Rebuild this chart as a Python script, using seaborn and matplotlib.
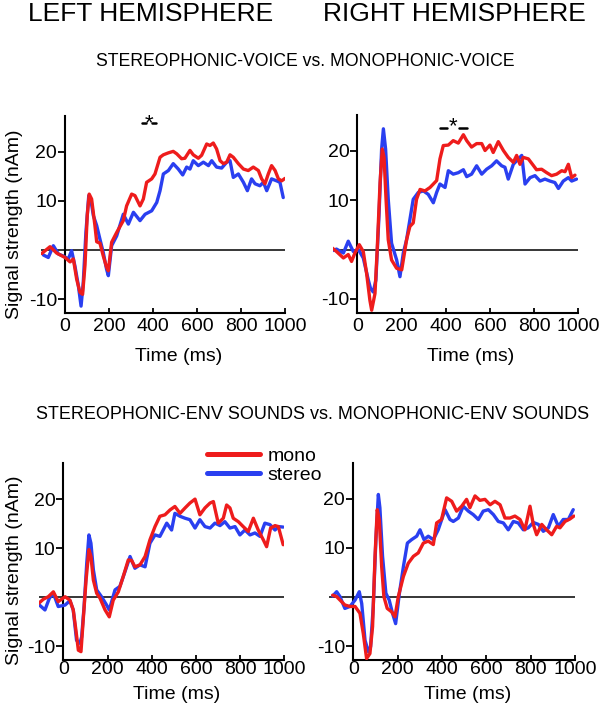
import numpy as np
import pandas as pd
import matplotlib
matplotlib.use("Agg")
import matplotlib.pyplot as plt
from matplotlib import font_manager
import seaborn as sns

# ---------------- data ----------------
# Top-left: voice, left hemisphere
tl_mono_t = [-106, -68, -38, 0, 23, 38, 53, 68, 80, 91, 101, 110, 121, 136, 144, 159, 174, 189, 197, 212, 235, 265, 280, 303, 318, 341, 356, 371, 394, 409, 432, 447, 470, 492, 508, 530, 545, 568, 583, 606, 621, 644, 659, 674, 689, 705, 720, 735, 750, 765, 788, 811, 833, 856, 879, 894, 909, 924, 939, 955, 970, 985, 1000]
tl_mono_v = [-0.7, 0.7, -0.6, -1.5, -2.4, -1.8, -5.9, -8.6, -9.0, -3.0, 7.0, 11.4, 10.4, 5.0, 1.7, 1.4, -1.2, -3.5, -4.2, 1.6, 3.6, 6.0, 9.0, 11.4, 11.1, 9.0, 10.4, 13.8, 14.5, 15.5, 18.9, 19.4, 19.8, 20.1, 19.6, 18.6, 18.7, 20.3, 19.4, 18.7, 19.3, 21.6, 21.3, 21.8, 20.6, 18.2, 17.6, 17.9, 19.4, 18.9, 17.6, 16.5, 16.2, 16.9, 16.2, 14.5, 13.5, 15.5, 17.2, 16.2, 14.5, 14.1, 14.6]
tl_stereo_t = [-98, -76, -53, -30, -8, 15, 30, 45, 61, 73, 83, 95, 108, 117, 129, 144, 159, 174, 189, 197, 212, 235, 265, 288, 311, 341, 364, 394, 417, 432, 447, 470, 492, 515, 535, 553, 568, 583, 606, 629, 652, 667, 689, 712, 735, 750, 765, 788, 811, 829, 848, 864, 886, 902, 917, 939, 962, 977, 992]
tl_stereo_v = [-1.0, -1.5, 0.9, -0.8, -1.2, -1.8, -0.1, -3.2, -7.3, -11.4, -6.6, 3.6, 11.1, 10.4, 7.0, 5.0, 2.2, -0.5, -3.9, -5.2, 0.9, 2.9, 7.3, 5.3, 7.7, 6.0, 7.3, 8.0, 9.7, 12.1, 15.5, 16.2, 17.6, 16.5, 15.3, 16.9, 16.5, 18.2, 17.2, 17.9, 17.2, 18.2, 16.9, 16.7, 17.9, 18.2, 14.8, 15.5, 13.8, 12.1, 14.5, 13.5, 13.1, 13.8, 12.1, 14.5, 14.1, 13.8, 10.7]

# Top-right: voice, right hemisphere
tr_mono_t = [-124, -94, -63, -41, -26, -11, 9, 27, 42, 57, 65, 80, 90, 103, 113, 121, 130, 140, 155, 178, 201, 223, 238, 253, 268, 284, 306, 329, 344, 359, 374, 389, 412, 434, 457, 480, 495, 517, 540, 563, 578, 600, 615, 638, 661, 683, 706, 721, 736, 751, 774, 796, 811, 834, 857, 879, 902, 925, 940, 955, 970, 985]
tr_mono_v = [0.7, -0.4, -1.7, -1.0, -2.4, -0.7, 1.0, -0.4, -4.8, -10.3, -12.3, -8.9, 0.0, 13.6, 20.4, 18.7, 10.2, 2.0, -2.1, -3.8, -4.1, 2.0, 4.7, 5.4, 10.2, 12.2, 11.9, 12.6, 13.3, 14.0, 18.4, 21.1, 21.2, 22.1, 21.6, 23.3, 22.1, 20.8, 21.5, 21.5, 20.1, 21.2, 19.7, 21.9, 20.1, 18.7, 17.7, 19.1, 17.3, 18.7, 18.4, 17.1, 16.2, 16.3, 15.6, 15.0, 15.3, 16.0, 15.8, 17.3, 14.6, 15.1]
tr_stereo_t = [-124, -94, -63, -41, -18, 5, 27, 50, 60, 72, 84, 98, 110, 118, 128, 140, 155, 178, 193, 208, 223, 238, 253, 276, 299, 321, 344, 359, 374, 397, 412, 434, 457, 480, 495, 517, 540, 563, 585, 608, 630, 653, 668, 683, 706, 729, 744, 759, 782, 804, 827, 849, 872, 894, 910, 932, 955, 970, 992]
tr_stereo_v = [-0.4, 0.1, -0.7, 1.7, -0.4, 0.0, -1.7, -6.2, -7.9, -8.6, -6.2, 6.8, 20.4, 24.5, 20.4, 10.2, 1.3, -2.1, -5.5, -0.7, 2.0, 6.1, 10.2, 11.6, 11.9, 11.2, 9.5, 11.6, 13.3, 12.6, 16.0, 15.3, 15.6, 16.2, 14.8, 15.3, 17.0, 15.3, 16.3, 17.0, 18.0, 17.0, 16.7, 14.3, 17.3, 18.4, 19.1, 13.3, 14.6, 15.0, 13.9, 14.3, 13.9, 13.6, 12.4, 13.9, 14.6, 13.9, 14.3]

# Bottom-left: environmental sounds, left hemisphere
bl_mono_t = [-113, -90, -68, -45, -23, 8, 30, 45, 57, 68, 80, 90, 103, 116, 125, 136, 151, 166, 189, 208, 226, 249, 271, 294, 309, 324, 347, 370, 392, 415, 437, 460, 483, 505, 528, 551, 573, 596, 618, 641, 664, 679, 701, 724, 739, 754, 769, 792, 814, 837, 860, 882, 905, 920, 938, 958, 973, 995]
bl_mono_v = [-1.3, -0.4, 0.1, 1.1, -0.9, 0.1, -0.6, -2.6, -6.7, -10.8, -11.1, -4.7, 3.5, 9.7, 8.3, 3.5, 0.8, -0.2, -2.6, -4.0, -0.6, 1.1, 4.2, 7.6, 7.5, 6.2, 6.6, 8.3, 11.7, 14.4, 16.5, 16.8, 17.8, 18.5, 17.1, 18.2, 19.2, 20.0, 16.8, 18.2, 19.2, 19.5, 15.1, 16.1, 18.8, 18.2, 16.1, 15.4, 14.4, 13.4, 16.1, 13.7, 11.7, 10.3, 14.1, 14.6, 14.4, 10.7]
bl_stereo_t = [-113, -83, -63, -45, -23, 8, 30, 45, 60, 75, 83, 94, 106, 116, 125, 136, 151, 173, 196, 208, 234, 256, 279, 302, 324, 347, 370, 392, 415, 437, 452, 468, 490, 505, 528, 551, 573, 596, 618, 641, 664, 686, 709, 731, 754, 777, 799, 822, 845, 867, 890, 912, 935, 958, 973, 995]
bl_stereo_v = [-1.4, -2.6, -0.2, 0.8, -1.9, -1.6, -0.7, -2.6, -8.8, -9.4, -8.1, -1.9, 6.9, 12.7, 11.0, 5.6, 1.5, 0.1, -1.6, -2.6, 1.5, 2.2, 5.2, 8.3, 5.9, 6.6, 6.2, 11.0, 12.7, 12.4, 13.7, 15.1, 13.7, 17.1, 16.5, 16.1, 15.8, 14.1, 15.8, 14.4, 14.1, 15.1, 14.6, 15.4, 14.1, 14.4, 12.7, 13.7, 12.7, 13.1, 12.4, 15.1, 14.8, 13.7, 14.4, 14.3]

# Bottom-right: environmental sounds, right hemisphere
br_mono_t = [-93, -75, -60, -38, -15, 8, 30, 45, 60, 75, 87, 98, 108, 117, 128, 138, 153, 173, 188, 203, 226, 248, 271, 293, 316, 338, 361, 376, 398, 421, 444, 466, 489, 511, 526, 549, 571, 594, 617, 639, 662, 684, 707, 729, 752, 774, 797, 812, 827, 850, 872, 895, 917, 932, 955, 977, 995]
br_mono_v = [0.4, 0.1, -0.6, -1.6, -1.9, -1.9, -3.3, -7.4, -12.5, -11.5, -6.0, 8.3, 17.8, 15.8, 6.2, 0.1, -2.3, -3.0, -4.0, 0.1, 4.2, 6.9, 8.3, 9.0, 11.0, 11.4, 10.7, 15.1, 15.8, 20.2, 19.5, 17.5, 18.5, 19.9, 18.2, 20.6, 19.7, 19.9, 18.8, 19.5, 18.8, 16.1, 16.1, 16.5, 15.8, 13.7, 18.5, 14.8, 12.7, 14.8, 13.7, 12.7, 14.4, 14.1, 15.4, 15.9, 16.5]
br_stereo_t = [-93, -75, -60, -38, -15, 8, 27, 38, 53, 68, 78, 90, 102, 113, 120, 132, 147, 162, 177, 191, 208, 226, 244, 263, 286, 301, 319, 338, 361, 383, 414, 436, 451, 474, 496, 519, 541, 564, 586, 609, 632, 654, 677, 699, 722, 744, 767, 789, 812, 835, 857, 880, 902, 925, 947, 970, 992]
br_stereo_v = [0.2, 1.1, 0.1, -2.3, -1.9, -0.6, 1.1, -1.3, -8.8, -11.1, -10.1, -1.9, 11.7, 20.9, 18.2, 8.3, 0.8, -0.6, -3.3, -5.4, 0.8, 6.2, 11.0, 11.7, 12.4, 13.7, 11.7, 12.4, 11.7, 13.7, 17.8, 15.8, 15.4, 16.1, 18.5, 17.5, 16.8, 15.8, 17.5, 17.8, 16.8, 15.4, 15.1, 13.7, 15.4, 15.1, 13.7, 14.1, 15.2, 14.8, 13.4, 14.1, 16.8, 14.4, 15.8, 15.8, 17.8]

# significance markers: (left dash start, left dash end, star x, right dash start, right dash end)
sig_tl = [348, 367, 382, 394, 414]
sig_tr = [374, 407, 434, 461, 495]

conditions = ["mono", "stereo"]
x_ticks = [0, 200, 400, 600, 800, 1000]
y_ticks = [-10, 10, 20]

titles_top = ["LEFT HEMISPHERE", "RIGHT HEMISPHERE"]
subtitle_voice = "STEREOPHONIC-VOICE vs. MONOPHONIC-VOICE"
subtitle_env = "STEREOPHONIC-ENV SOUNDS vs. MONOPHONIC-ENV SOUNDS"
ylabel = "Signal strength (nAm)"
xlabel = "Time (ms)"

# ---------------- style ----------------
sns.set_style("white")
plt.rcParams["font.family"] = ["Liberation Sans", "DejaVu Sans"]

installed = {f.name for f in font_manager.fontManager.ttflist}
HAS_NARROW = "Liberation Sans Narrow" in installed

RED = "#ee1c1c"
BLUE = "#2a3ff0"
palette = {"mono": RED, "stereo": BLUE}

W, H = 611, 718
fig = plt.figure(figsize=(W / 100, H / 100), dpi=100)


def make_ax(left, top, right, bottom):
    return fig.add_axes([left / W, 1 - bottom / H, (right - left) / W, (bottom - top) / H])


XMIN, XMAX = -110, 1000
YMIN, YMAX = -12.8, 27.3

panels = [
    dict(pos=(40.8, 116, 285, 313), mono=(tl_mono_t, tl_mono_v), stereo=(tl_stereo_t, tl_stereo_v),
         ylab=True, xpad=3.6, xl_y=-0.178, yl=(-0.073, 0.452), sig=sig_tl, sig_y=(25.9, 24.6), legend=False),
    dict(pos=(333.0, 115, 578.3, 312.7), mono=(tr_mono_t, tr_mono_v), stereo=(tr_stereo_t, tr_stereo_v),
         ylab=False, xpad=3.6, xl_y=-0.178, yl=None, sig=sig_tr, sig_y=(24.7, 23.9), legend=False),
    dict(pos=(39.0, 463.3, 284.3, 660), mono=(bl_mono_t, bl_mono_v), stereo=(bl_stereo_t, bl_stereo_v),
         ylab=True, xpad=0.5, xl_y=-0.13, yl=(-0.065, 0.457), sig=None, sig_y=None, legend=True),
    dict(pos=(328.9, 463, 575, 660), mono=(br_mono_t, br_mono_v), stereo=(br_stereo_t, br_stereo_v),
         ylab=False, xpad=0.5, xl_y=-0.13, yl=None, sig=None, sig_y=None, legend=False),
]

for p in panels:
    ax = make_ax(*p["pos"])
    df = pd.concat([
        pd.DataFrame({"time": p["stereo"][0], "signal": p["stereo"][1], "condition": "stereo"}),
        pd.DataFrame({"time": p["mono"][0], "signal": p["mono"][1], "condition": "mono"}),
    ], ignore_index=True)
    ax.axhline(0, color="black", lw=1.1, zorder=1)
    sns.lineplot(data=df, x="time", y="signal", hue="condition", hue_order=["stereo", "mono"],
                 palette=palette, estimator=None, sort=False, lw=2.4, ax=ax,
                 legend=p["legend"], zorder=3)

    ax.set_xlim(XMIN, XMAX)
    ax.set_ylim(YMIN, YMAX)
    ax.set_xticks(x_ticks)
    ax.set_yticks(y_ticks)
    ax.set_xticklabels([str(v) for v in x_ticks])
    ax.set_yticklabels([str(v) for v in y_ticks])

    for s in ["top", "right"]:
        ax.spines[s].set_visible(False)
    ax.spines["left"].set_position(("data", 0))
    ax.spines["bottom"].set_bounds(0, 1000)
    for s in ["left", "bottom"]:
        ax.spines[s].set_color("black")
        ax.spines[s].set_linewidth(1.5)

    ax.tick_params(axis="y", direction="out", length=4.8, width=1.3, pad=1, labelsize=14,
                   colors="black", left=True)
    ax.tick_params(axis="x", direction="in", length=3.8, width=1.3, pad=p["xpad"], labelsize=14,
                   colors="black", bottom=True)

    ax.set_xlabel(xlabel, fontsize=14, color="black")
    ax.xaxis.set_label_coords((515 - XMIN) / (XMAX - XMIN), p["xl_y"])
    if p["ylab"]:
        ax.set_ylabel(ylabel, fontsize=14, color="black")
        ax.yaxis.set_label_coords(*p["yl"])
    else:
        ax.set_ylabel("")

    if p["sig"] is not None:
        a0, a1, sx, b0, b1 = p["sig"]
        dy, sy = p["sig_y"]
        ax.plot([a0, a1], [dy, dy], color="black", lw=1.8, clip_on=False, zorder=4)
        ax.plot([b0, b1], [dy, dy], color="black", lw=1.8, clip_on=False, zorder=4)
        ax.text(sx, sy, "*", ha="center", va="baseline", fontsize=16, color="black",
                clip_on=False, zorder=4)

    if p["legend"]:
        leg = ax.get_legend()
        handles = leg.legend_handles
        labels = [t.get_text() for t in leg.get_texts()]
        hmap = dict(zip(labels, handles))
        leg.remove()
        new = ax.legend([hmap[c] for c in conditions], conditions,
                        loc="upper left", bbox_to_anchor=(206.7 / W, 1 - 447.5 / H),
                        bbox_transform=fig.transFigure, frameon=False, fontsize=14,
                        borderpad=0, borderaxespad=0, handlelength=2.73,
                        handletextpad=0.41, labelspacing=0.05)
        for ln in new.get_lines():
            ln.set_linewidth(3.6)
        for t in new.get_texts():
            t.set_color("black")

# ---------------- titles ----------------
fig.text(151 / W, 1 - 14 / H, titles_top[0], ha="center", va="center", fontsize=19, color="black")
fig.text(454 / W, 1 - 14 / H, titles_top[1], ha="center", va="center", fontsize=19, color="black")
fig.text(305 / W, 1 - 61.5 / H, subtitle_voice, ha="center", va="center", fontsize=12.7, color="black")
if HAS_NARROW:
    fig.text(311 / W, 1 - 414.5 / H, subtitle_env, ha="center", va="center", fontsize=15.5,
             color="black", family=["Liberation Sans Narrow", "DejaVu Sans"])
else:
    fig.text(313 / W, 1 - 414.5 / H, subtitle_env, ha="center", va="center", fontsize=13, color="black")

fig.savefig("out.png", dpi=100)
